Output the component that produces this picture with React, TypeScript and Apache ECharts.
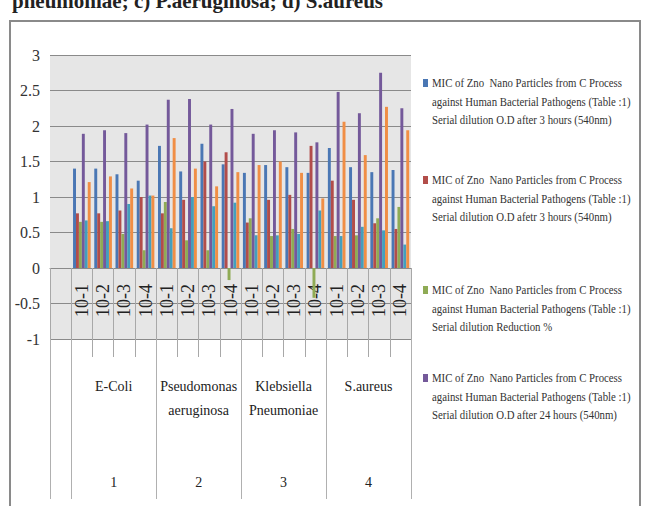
import React, { useEffect, useRef } from "react";
import * as echarts from "echarts";

// first category is an empty column, as in the reference
const categories = ["", "10-1", "10-2", "10-3", "10-4", "10-1", "10-2", "10-3", "10-4", "10-1", "10-2", "10-3", "10-4", "10-1", "10-2", "10-3", "10-4"];
const organisms = ["E-Coli", "Pseudomonas\naeruginosa", "Klebsiella\nPneumoniae", "S.aureus"];
const groupNumbers = ["1", "2", "3", "4"];
const yTicks = [-1, -0.5, 0, 0.5, 1, 1.5, 2, 2.5, 3];

const seriesNames = [
  "MIC of Zno  Nano Particles from C Process against Human Bacterial Pathogens (Table :1) Serial dilution O.D after 3 hours (540nm)",
  "MIC of Zno  Nano Particles from C Process against Human Bacterial Pathogens (Table :1) Serial dilution O.D afetr 3 hours (540nm)",
  "MIC of Zno  Nano Particles from C Process against Human Bacterial Pathogens (Table :1) Serial dilution Reduction %",
  "MIC of Zno  Nano Particles from C Process against Human Bacterial Pathogens (Table :1) Serial dilution O.D after 24 hours (540nm)",
  "Series 5",
  "Series 6",
];
const legendLines = [
  ["MIC of Zno  Nano Particles from C Process", "against Human Bacterial Pathogens (Table :1)", "Serial dilution O.D after 3 hours (540nm)"],
  ["MIC of Zno  Nano Particles from C Process", "against Human Bacterial Pathogens (Table :1)", "Serial dilution O.D afetr 3 hours (540nm)"],
  ["MIC of Zno  Nano Particles from C Process", "against Human Bacterial Pathogens (Table :1)", "Serial dilution Reduction %"],
  ["MIC of Zno  Nano Particles from C Process", "against Human Bacterial Pathogens (Table :1)", "Serial dilution O.D after 24 hours (540nm)"],
];

const od3hA = [1.40, 1.40, 1.32, 1.23, 1.72, 1.36, 1.75, 1.46, 1.34, 1.45, 1.42, 1.34, 1.69, 1.42, 1.35, 1.38];
const od3hB = [0.77, 0.77, 0.81, 1.00, 0.77, 0.96, 1.50, 1.63, 0.64, 0.96, 1.03, 1.72, 1.23, 0.96, 0.63, 0.55];
const reduction = [0.65, 0.65, 0.48, 0.25, 0.93, 0.39, 0.25, -0.17, 0.70, 0.45, 0.55, -0.42, 0.45, 0.46, 0.70, 0.86];
const od24h = [1.89, 1.94, 1.90, 2.02, 2.37, 2.38, 2.02, 2.24, 1.89, 1.94, 1.91, 1.77, 2.48, 2.18, 2.75, 2.25];
const series5 = [0.67, 0.66, 0.90, 1.02, 0.56, 1.00, 0.87, 0.92, 0.46, 0.46, 0.48, 0.81, 0.45, 0.58, 0.53, 0.33];
const series6 = [1.21, 1.29, 1.12, 1.02, 1.83, 1.40, 1.15, 1.35, 1.45, 1.50, 1.34, 0.98, 2.06, 1.59, 2.27, 1.94];

const colors = ["#4a77b4", "#b24d4a", "#8fab55", "#74599a", "#449fbd", "#f08e45"];
const FONT = '"Liberation Serif", "DejaVu Serif", serif';

export default function App() {
  const ref = useRef<HTMLDivElement>(null);
  useEffect(() => {
    if (!ref.current) return;
    const chart = echarts.init(ref.current, null, { renderer: "svg" });
    const allValues = [od3hA, od3hB, reduction, od24h, series5, series6];
    const legendTops = [83, 180, 290, 378];
    const legendGraphics: any[] = [];
    legendLines.forEach((lines, i) => {
      legendGraphics.push({
        type: "rect",
        shape: { x: 423, y: legendTops[i] - 4, width: 5, height: 8 },
        style: { fill: colors[i] },
      });
      legendGraphics.push({
        type: "text",
        x: 432,
        y: legendTops[i] - 9,
        scaleX: 0.9,
        style: {
          text: lines.join("\n"),
          font: `12px ${FONT}`,
          lineHeight: 18.5,
          fill: "#333",
          verticalAlign: "top",
        },
      });
    });
    chart.setOption({
      animation: false,
      backgroundColor: "#ffffff",
      color: colors,
      grid: {
        left: 50,
        right: 238,
        top: 55,
        bottom: 167,
        show: true,
        backgroundColor: "#e6e6e6",
        borderWidth: 0,
      },
      graphic: [
        {
          type: "rect",
          z: -1,
          shape: { x: 10, y: 21, width: 630, height: 495 },
          style: { fill: "none", stroke: "#8a8a8a", lineWidth: 2 },
        },
        {
          type: "text",
          x: 12,
          y: 11,
          style: {
            text: "pneumoniae; c) P.aeruginosa; d) S.aureus",
            font: `bold 21px ${FONT}`,
            fill: "#222",
            verticalAlign: "bottom",
          },
        },
        ...legendGraphics,
      ],
      xAxis: [
        {
          type: "category",
          data: categories,
          position: "bottom",
          axisLine: { onZero: true, lineStyle: { color: "#8a8a8a" } },
          axisTick: { show: true, interval: 0, length: 89, lineStyle: { color: "#a8a8a8" } },
          axisLabel: {
            interval: 0,
            rotate: 90,
            margin: -55,
            fontSize: 18,
            fontFamily: FONT,
            color: "#222",
          },
          splitLine: { show: false },
        },
        {
          type: "value",
          min: 0,
          max: 17,
          position: "bottom",
          axisLine: { show: false, onZero: false },
          axisTick: {
            show: true,
            customValues: [0, 1, 5, 9, 13, 17],
            length: 160,
            lineStyle: { color: "#b0b0b0" },
          },
          axisLabel: {
            customValues: [3, 7, 11, 15],
            margin: 35,
            fontSize: 14,
            lineHeight: 24,
            fontFamily: FONT,
            color: "#222",
            formatter: (v: number) => {
              const i = Math.round((v - 3) / 4);
              const name = organisms[i] || "";
              const nLines = name.split("\n").length;
              return name + "\n".repeat(5 - nLines) + groupNumbers[i];
            },
          },
          splitLine: { show: false },
        },
      ],
      yAxis: {
        type: "value",
        min: yTicks[0],
        max: yTicks[yTicks.length - 1],
        interval: 0.5,
        axisLine: { show: false },
        axisTick: { show: false },
        axisLabel: { fontSize: 16, fontFamily: FONT, color: "#333", margin: 10 },
        splitLine: { lineStyle: { color: "#8a8a8a", width: 1 } },
      },
      series: allValues.map((vals, i) => ({
        name: seriesNames[i],
        type: "bar",
        xAxisIndex: 0,
        barGap: "0%",
        barCategoryGap: "17%",
        data: [null, ...vals],
        itemStyle: { color: colors[i] },
      })),
    });
    return () => chart.dispose();
  }, []);
  return (
    <div
      ref={ref}
      style={{ position: "fixed", left: 0, top: 0, width: 649, height: 506, background: "#fff" }}
    />
  );
}
